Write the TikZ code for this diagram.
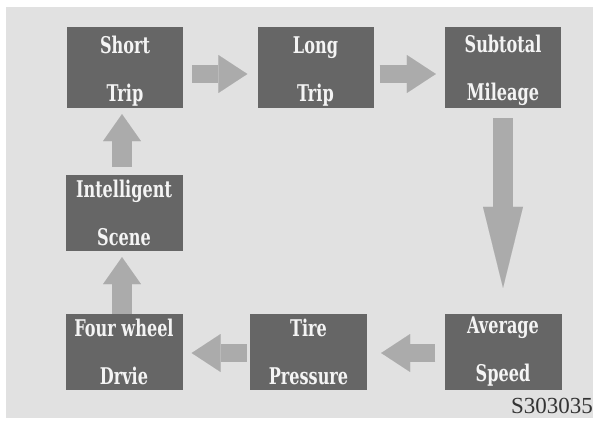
\documentclass[tikz,border=0pt]{standalone}
\usepackage{fontspec}
\usetikzlibrary{arrows.meta}
\newfontfamily\boxfont{DejaVu Serif}[FakeStretch=0.70]
\setmainfont{Liberation Serif}
\definecolor{panel}{HTML}{E1E1E1}
\definecolor{boxgray}{HTML}{666666}
\definecolor{arrowgray}{HTML}{ABABAB}
\definecolor{boxtext}{HTML}{F4F4F4}
\newcommand\topstrut{\rule{0pt}{24pt}}
\begin{document}
\begin{tikzpicture}[x=1pt,y=-1pt,
  box/.style={fill=boxgray, text=boxtext, inner sep=0pt, align=center,
    font=\boxfont\bfseries\fontsize{23}{48}\selectfont},
  toprow/.style={box, minimum width=116pt, minimum height=81pt},
  lowrow/.style={box, minimum width=117pt, minimum height=76pt},
  harrow/.style={draw=arrowgray, line width=18pt, line cap=butt,
    -{Triangle[length=29pt,width=38pt,line width=0.01pt]}},
  varrow/.style={draw=arrowgray, line width=20pt, line cap=butt,
    -{Triangle[length=27pt,width=38pt,line width=0.01pt]}},
]
\useasboundingbox (0,0) rectangle (593,420);
\fill[white] (0,0) rectangle (593,420);
\fill[panel] (6,7) rectangle (593,418);

\node[toprow] (short) at (125,67.5) {\topstrut Short\\Trip};
\node[toprow] (long) at (315.5,67.5) {\topstrut Long\\Trip};
\node[toprow] (sub) at (503,67.5) {\topstrut Subtotal\\Mileage};
\node[lowrow] (intel) at (124,213) {Intelligent\\Scene};
\node[lowrow] (four) at (124,352) {Four wheel\\Drvie};
\node[lowrow] (tire) at (308.5,352) {Tire\\Pressure};
\node[lowrow] (avg) at (503,352) {Average\\Speed};

\coordinate (ytop) at (0,74);
\coordinate (ybot) at (0,353);
\coordinate (xleft) at (122,0);

\draw[harrow, shorten <=9pt, shorten >=10pt] (short.east |- ytop) -- (long.west |- ytop);
\draw[harrow, shorten <=6pt, shorten >=9pt] (long.east |- ytop) -- (sub.west |- ytop);
\draw[draw=arrowgray, line width=20pt, line cap=butt,
  -{Triangle[length=81pt,width=40pt,line width=0.01pt]},
  shorten <=10pt, shorten >=26pt] (sub.south) -- (avg.north);
\draw[harrow, shorten <=9pt, shorten >=14pt] (avg.west |- ybot) -- (tire.east |- ybot);
\draw[harrow, shorten <=3pt, shorten >=9pt] (tire.west |- ybot) -- (four.east |- ybot);
\draw[varrow, shorten >=6pt] (four.north -| xleft) -- (intel.south -| xleft);
\draw[varrow, shorten <=8pt, shorten >=6pt] (intel.north -| xleft) -- (short.south -| xleft);

\node[anchor=base east, inner sep=0pt, text=black!80, font=\fontsize{23}{23}\selectfont]
  (code) at (593,413) {S303035};
\end{tikzpicture}
\end{document}
